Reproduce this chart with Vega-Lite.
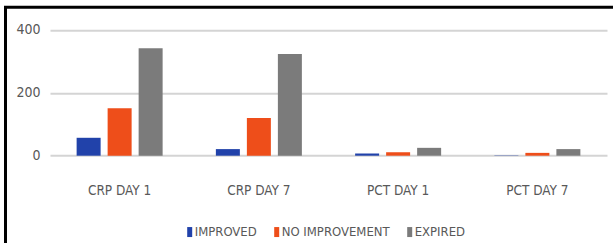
{
  "$schema": "https://vega.github.io/schema/vega-lite/v6.json",
  "width": 620,
  "height": 250,
  "autosize": {"type": "none"},
  "padding": {"left": 5.5, "top": 7.3, "right": 0, "bottom": 0},
  "background": "white",
  "config": {"view": {"stroke": "#000000", "strokeWidth": 3}},
  "data": {
    "values": [
      {"test": "CRP DAY 1", "outcome": "IMPROVED", "count": 57},
      {"test": "CRP DAY 1", "outcome": "NO IMPROVEMENT", "count": 151},
      {"test": "CRP DAY 1", "outcome": "EXPIRED", "count": 342},
      {"test": "CRP DAY 7", "outcome": "IMPROVED", "count": 21},
      {"test": "CRP DAY 7", "outcome": "NO IMPROVEMENT", "count": 120},
      {"test": "CRP DAY 7", "outcome": "EXPIRED", "count": 324},
      {"test": "PCT DAY 1", "outcome": "IMPROVED", "count": 7},
      {"test": "PCT DAY 1", "outcome": "NO IMPROVEMENT", "count": 11},
      {"test": "PCT DAY 1", "outcome": "EXPIRED", "count": 25},
      {"test": "PCT DAY 7", "outcome": "IMPROVED", "count": 1},
      {"test": "PCT DAY 7", "outcome": "NO IMPROVEMENT", "count": 9},
      {"test": "PCT DAY 7", "outcome": "EXPIRED", "count": 21}
    ]
  },
  "mark": {"type": "bar"},
  "encoding": {
    "x": {
      "field": "test",
      "type": "nominal",
      "sort": null,
      "scale": {"range": [44.5, 601.5], "paddingInner": 0.332, "paddingOuter": 0.166},
      "axis": {
        "orient": "bottom",
        "offset": -101.6,
        "domain": false,
        "ticks": false,
        "grid": false,
        "labelAngle": 0,
        "labelPadding": 28,
        "labelFont": "DejaVu Sans Condensed",
        "labelFontSize": 13.5,
        "labelColor": "#595959",
        "title": null
      }
    },
    "xOffset": {
      "field": "outcome",
      "type": "nominal",
      "sort": ["IMPROVED", "NO IMPROVEMENT", "EXPIRED"],
      "scale": {"paddingInner": 0.226, "paddingOuter": 0.113}
    },
    "y": {
      "field": "count",
      "type": "quantitative",
      "scale": {"domain": [0, 400], "range": [148.4, 22.7], "nice": false},
      "axis": {
        "orient": "left",
        "offset": -44.5,
        "values": [0, 200, 400],
        "domain": false,
        "ticks": false,
        "grid": true,
        "gridColor": "#d4d4d4",
        "gridWidth": 2,
        "labelPadding": 10,
        "labelFont": "DejaVu Sans Condensed",
        "labelFontSize": 14,
        "labelColor": "#595959",
        "title": null
      }
    },
    "color": {
      "field": "outcome",
      "type": "nominal",
      "sort": ["IMPROVED", "NO IMPROVEMENT", "EXPIRED"],
      "scale": {"domain": ["IMPROVED", "NO IMPROVEMENT", "EXPIRED"], "range": ["#2142aa", "#ee4e1a", "#7b7b7b"]},
      "legend": {
        "orient": "none",
        "legendX": 177.7,
        "legendY": 218,
        "direction": "horizontal",
        "title": null,
        "padding": 0,
        "symbolType": "M-0.5,-1H0.5V1H-0.5Z",
        "symbolSize": 100,
        "symbolStrokeWidth": 0,
        "labelFont": "DejaVu Sans Condensed",
        "labelFontSize": 13,
        "labelColor": "#595959",
        "labelOffset": -1.5,
        "columnPadding": 13
      }
    }
  }
}
